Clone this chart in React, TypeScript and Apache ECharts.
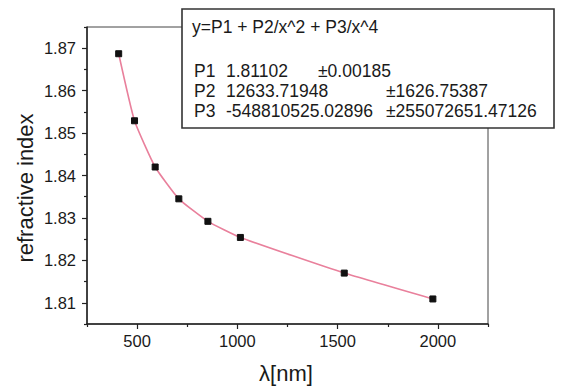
import React, { useEffect, useRef } from "react";
import * as echarts from "echarts";

const wavelengths = [408, 487, 590, 708, 853, 1015, 1533, 1975];
const refractiveIndex = [1.8687, 1.8529, 1.842, 1.8345, 1.8292, 1.8254, 1.817, 1.8109];

const xMajorTicks = [500, 1000, 1500, 2000];
const xMinorTicks = [250, 750, 1250, 1750, 2250];
const yMajorTicks = [1.81, 1.82, 1.83, 1.84, 1.85, 1.86, 1.87];
const yMinorTicks = [1.805, 1.815, 1.825, 1.835, 1.845, 1.855, 1.865, 1.875];

const formula = "y=P1 + P2/x^2 + P3/x^4";
const paramNames = ["P1", "P2", "P3"];
const paramValues = ["1.81102", "12633.71948", "-548810525.02896"];
const paramErrors = ["±0.00185", "±1626.75387", "±255072651.47126"];

const FONT = "'Liberation Sans', Arial, Helvetica, sans-serif";
const TEXT = "#1a1a1a";

export default function App() {
  const ref = useRef<HTMLDivElement>(null);
  useEffect(() => {
    if (!ref.current) return;
    const chart = echarts.init(ref.current, null, { renderer: "svg" });
    const errX = [318, 386, 386];
    const rowY = [71, 91, 111];
    const boxFont = `17.5px ${FONT}`;
    const boxTexts: any[] = [
      {
        type: "text",
        x: 192,
        y: 27,
        z: 101,
        style: { text: formula, font: boxFont, fill: TEXT, textVerticalAlign: "middle" },
      },
    ];
    paramNames.forEach((p, i) => {
      boxTexts.push({
        type: "text", x: 194, y: rowY[i], z: 101,
        style: { text: p, font: boxFont, fill: TEXT, textVerticalAlign: "middle" },
      });
      boxTexts.push({
        type: "text", x: 226, y: rowY[i], z: 101,
        style: { text: paramValues[i], font: boxFont, fill: TEXT, textVerticalAlign: "middle" },
      });
      boxTexts.push({
        type: "text", x: errX[i], y: rowY[i], z: 101,
        style: { text: paramErrors[i], font: boxFont, fill: TEXT, textVerticalAlign: "middle" },
      });
    });

    const axisCommonX = { type: "value", min: 250, max: 2250, splitLine: { show: false } };
    const axisCommonY = { type: "value", min: 1.805, max: 1.875, splitLine: { show: false } };

    chart.setOption({
      animation: false,
      backgroundColor: "#ffffff",
      grid: {
        left: 87,
        top: 27,
        width: 401,
        height: 297,
        show: true,
        borderColor: "#444",
        borderWidth: 1,
        backgroundColor: "transparent",
      },
      xAxis: [
        {
          ...axisCommonX,
          position: "bottom",
          axisLine: { show: true, onZero: false, lineStyle: { color: "#222", width: 1.5 } },
          axisTick: { show: true, inside: false, length: 5, customValues: xMajorTicks, lineStyle: { color: "#222", width: 1.2 } },
          axisLabel: {
            customValues: xMajorTicks,
            margin: 8,
            color: TEXT,
            fontSize: 16.5,
            fontFamily: FONT,
            formatter: (v: number) => String(Math.round(v)),
          },
        },
        {
          ...axisCommonX,
          position: "bottom",
          axisLine: { show: false },
          axisTick: { show: true, inside: false, length: 3, customValues: xMinorTicks, lineStyle: { color: "#222", width: 1.2 } },
          axisLabel: { show: false },
        },
      ],
      yAxis: [
        {
          ...axisCommonY,
          position: "left",
          axisLine: { show: true, onZero: false, lineStyle: { color: "#222", width: 1.5 } },
          axisTick: { show: true, inside: false, length: 5, customValues: yMajorTicks, lineStyle: { color: "#222", width: 1.2 } },
          axisLabel: {
            customValues: yMajorTicks,
            margin: 11,
            color: TEXT,
            fontSize: 16.5,
            fontFamily: FONT,
            formatter: (v: number) => v.toFixed(2),
          },
        },
        {
          ...axisCommonY,
          position: "left",
          axisLine: { show: false },
          axisTick: { show: true, inside: false, length: 3, customValues: yMinorTicks, lineStyle: { color: "#222", width: 1.2 } },
          axisLabel: { show: false },
        },
      ],
      series: [
        {
          type: "line",
          xAxisIndex: 0,
          yAxisIndex: 0,
          data: wavelengths.map((w, i) => [w, refractiveIndex[i]]),
          smooth: 0.15,
          symbol: "rect",
          symbolSize: 6,
          showSymbol: true,
          lineStyle: { color: "#e9809c", width: 1.6 },
          itemStyle: { color: "#111", borderColor: "#111" },
          z: 3,
        },
      ],
      graphic: [
        {
          type: "rect",
          shape: { x: 182, y: 9, width: 372, height: 119 },
          z: 100,
          style: { fill: "#ffffff", stroke: "#333", lineWidth: 1.6 },
        },
        ...boxTexts,
        {
          type: "text",
          x: 25,
          y: 188,
          rotation: Math.PI / 2,
          z: 50,
          style: {
            text: "refractive index",
            font: `22px ${FONT}`,
            fill: TEXT,
            textAlign: "center",
            textVerticalAlign: "middle",
          },
        },
        {
          type: "text",
          x: 286,
          y: 373,
          z: 50,
          style: {
            text: "λ[nm]",
            font: `22px ${FONT}`,
            fill: TEXT,
            textAlign: "center",
            textVerticalAlign: "middle",
          },
        },
      ],
    });
    return () => chart.dispose();
  }, []);
  return (
    <div
      ref={ref}
      style={{ position: "fixed", left: 0, top: 0, width: 569, height: 387, background: "#fff" }}
    />
  );
}
